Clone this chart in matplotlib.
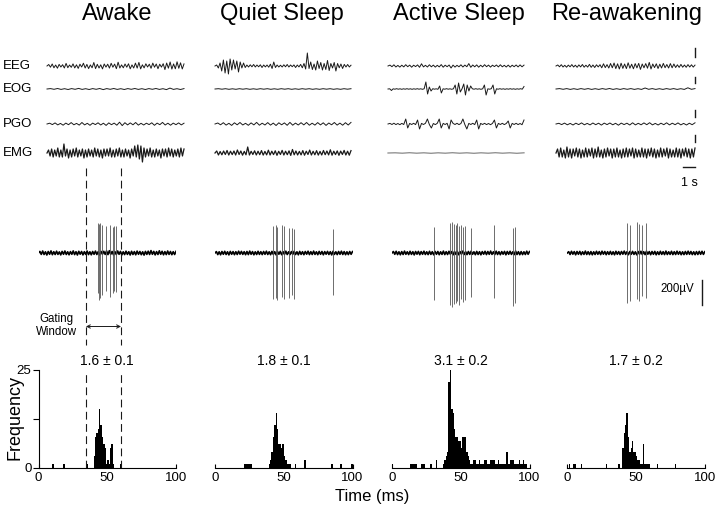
import numpy as np
import matplotlib
matplotlib.use("Agg")
import matplotlib.pyplot as plt

plt.rcParams['font.family'] = ['Liberation Sans', 'DejaVu Sans']

W, H = 720, 512

# ---------------- data ----------------
states = ["Awake", "Quiet Sleep", "Active Sleep", "Re-awakening"]
channels = ["EEG", "EOG", "PGO", "EMG"]
stats = ["1.6 ± 0.1", "1.8 ± 0.1", "3.1 ± 0.2", "1.7 ± 0.2"]
trace_dur = 11.5  # seconds shown in the top traces
gate_window = [34.5, 60]  # ms

# top polygraphic traces (arbitrary units, read approximately)
aw_eeg = [0,1.5,-1.2,2,-1.8,1,-2.2,1.6,-1,1.3,-2,2.6,-1.7,1,-1.3,2.1,-1.9,1.2,-2.4,1.8,-1,2.8,-2,1.6,-2.6,1.1,-1.8,3.5,-2.6,1.7,-2,1.2,-2.9,2,-1.1,1.8,-2.1,2.7,-1.2,1.9,-2.7,3.8,-2,1.1,-1.8,2,-1.2,2.2,-2.8,1.1,-2,2.9,-2.1,3.6,-2.9,1.2,-1.9,2.2,-1,1.8,-2.3,2.9,-1.2,2,-2.7,1.8,-1.1,2.3,-3.6,3,-2.2,4,-3.1,2.1,-2.8,4.2,-2.3,3.2,-3,2.1]
aw_eog = [0,0.4,-0.3,0.5,-0.4,0.3,-0.5,0.4,-0.3,0.6,-0.4,0.3,-0.5,0.4,-0.3,0.5,-0.6,0.4,-0.3,0.5,-0.4,0.3,-0.5,0.4,-0.3,0.5,-0.4,0.3,-0.5,0.4,-0.3,0.5,-0.4,0.3,-0.6,0.9,-0.4,0.3,-0.5,0.4]
aw_pgo = [0,0.8,-0.6,1.1,-0.9,0.6,-1.2,0.9,-0.7,1.4,-0.8,0.6,-1.1,1.5,-0.9,0.7,-1.3,0.9,-0.6,1.2,-1,0.8,-1.4,1.1,-0.7,0.9,-1.2,1.8,-1.6,1.3,-0.9,1.1,-0.8,1.5,-1.1,0.7,-1,0.8,-0.6,1.2,-1.3,0.9,-0.7,1.6,-1,0.8,-1.2,0.9,-0.7,1.1,-0.9,0.8]
aw_emg = [0,3,-3,4,-4,3,-3,5,-4,3,-4,9,-3,4,-5,3,-4,4,-3,5,-4,3,-3,4,-5,3,-4,4,-3,3,-4,5,-3,4,-4,3,-5,4,-3,4,-3,5,-4,3,-4,4,-3,5,-4,3,-4,4,-3,3,-5,4,-3,7,-4,8,-6,7,-9,5,-4,4,-3,5,-4,3,-4,4,-3,3,-5,4,-3,4,-4,5,-3,4,-4,3,-3,4,-4,5,-3,4]

qs_eeg = [0,1,-2,3,-5,6,-7,5,-8,7,-4,6,-3,5,-6,4,-2,3,-1.5,1,-1,1.2,-0.8,1.5,-1,1,-0.8,1.2,-1.5,1,-0.9,1,-1.2,1.8,-2.5,4,-1.5,1,-1,0.8,-1,1.2,-0.8,1.5,-1,1,-0.7,1.1,-1.5,1,-0.9,1.6,-1.8,2.5,-3,13,-2.5,4,-3.5,2,-4,5,-2.5,3.5,-4,2.5,-3.5,5.5,-4.5,2.5,-2,3.5,-5,2.5,-1.8,2,-2.5,1.6,-1,1.5,-1,0.8]
qs_eog = [0,0.3,-0.2,0.3,-0.3,0.2,-0.3,0.3,-0.2,0.3,-0.3,0.2,-0.3,0.3,-0.2,0.3,-0.3,0.2,-0.3,0.3,-0.2,0.3,-0.3,0.2,-0.3,0.3,-0.2,0.3,-0.3,0.2,-0.3,0.3,-0.2,0.3,-0.3,0.2,-0.3,0.3,-0.2,0.3]
qs_pgo = [0,1,-0.8,1.3,-1.1,0.7,-1.4,1.2,-0.8,1.5,-1,0.7,-1.3,1.1,-0.9,1.6,-1.2,0.8,-1,1.4,-1.1,0.9,-1.5,1.2,-0.8,1.1,-1.3,1.6,-1.2,0.9,-1,1.3,-0.9,1.5,-1.2,0.8,-1.1,1.4,-0.9,1.2,-1.4,1,-0.8,1.5,-1.1,0.9,-1.2,1.3,-1,1.6]
qs_emg = [0,2,-2,1.5,-1.8,2,-1.5,2.5,-2,1.8,-1.6,2,-2,3,-1.5,2,-2.2,1.6,-1.8,6,-2,1.7,-1.5,2.2,-2,1.8,-1.7,2.4,-2.1,1.6,-1.9,2.8,-2,1.8,-1.6,2.2,-2.3,1.7,-1.5,2.6,-2,1.8,-1.7,2.1,-2.4,3.5,-1.8,2,-2,1.6,-1.9,2.4,-2.2,1.8,-1.5,2.9,-2,1.7,-1.8,2.3,-2.1,1.6,-2,2.5,-1.7,2,-1.9,3.2,-2.2,1.8,-1.6,2.1,-2.3,1.9,-1.5,2.6,-2,1.8,-2.2,2.4]

as_eeg = [0,0.9,-0.7,1.2,-1,0.6,-1.1,0.8,-0.9,1.3,-0.7,0.9,-1.2,0.8,-0.6,1.1,-1.3,2.2,-0.9,0.7,-1,1.2,-0.8,0.9,-1.1,0.7,-0.9,1.4,-1.2,0.8,-0.7,1,-2,0.9,-1.1,0.7,-0.8,1.2,-1,0.9,-0.7,2.4,-1.3,1,-0.8,1.1,-1.2,0.8,-0.9,1.3,-0.7,0.9,-1.1,0.8,-0.6,1,-0.9,1.2,-0.8,0.7,-1,0.9,-1.1,0.8,-0.7,1,-0.9,1.1,-0.8,0.9]
as_eog = [0,0.2,-1.5,0.2,-0.2,0.3,-0.2,0.2,-0.3,0.2,-0.2,0.3,-0.2,0.2,-0.3,0.2,-0.2,0.3,-0.2,0.2,-0.3,0.2,7,-5,2,-2,0.3,-0.2,0.2,-0.3,3,-4,0.2,-0.2,0.3,-0.2,0.2,-0.3,0.2,4,-5,6,-3,0.2,5,-6,4,-2,3,0.2,-0.2,0.3,-0.2,0.2,-0.3,0.2,4,-6,0.2,-0.2,0.3,4,-5,0.2,-0.2,0.3,-0.2,0.2,-0.3,0.2,-0.2,0.3,-0.2,0.2,-0.3,0.2,-0.2,0.3,-0.2,2.5]
as_pgo = [0,0.6,-0.5,0.8,-0.6,0.5,-0.7,0.6,-0.5,5,-4,0.6,-0.5,0.7,-0.6,4,-5,0.6,-0.5,0.7,5,-0.6,-4,0.5,-0.6,0.7,5,-4,0.6,-0.5,0.7,-5,4,0.6,-0.5,0.7,-0.6,0.5,5,-0.6,-5,0.6,-0.5,0.7,-0.6,4,-5,0.6,-0.5,0.7,-0.6,0.5,-0.7,0.6,4,-4,0.6,-0.5,0.7,-0.6,0.5,3,-4,0.6,-0.5,0.7,-0.6,0.5,-0.7,4]
as_emg = [0,0.2,-0.2,0.3,-0.2,0.2,-0.3,0.2,-0.2,0.3,-0.2,0.2,-0.3,0.2,-0.2,0.3,-0.2,0.2,-0.3,0.2]

ra_eeg = [0,1,-0.8,1.3,-1,0.7,-1.2,0.9,-0.8,1.4,-1,0.8,-1.3,1.1,-0.9,1.5,-1.2,0.8,-1.1,1.6,-1.3,1,-1.5,1.2,-0.9,1.3,-1.8,2.2,-1.6,1.4,-2,2.5,-1.8,3,-2.6,2.2,-3,2.8,-2.4,2,-2.6,3.2,-2.2,1.8,-2.8,2.4,-1.9,2.6,-3.4,2,-1.8,2.4,-2.2,3.6,-3,2,-1.6,2.2,-2.5,1.8,-2,2.6,-1.7,1.5,-2,2.4,-1.8,2,-1.5,1.2,-1.4,1.6,-1.2,1,-1.3,1.4,-1,1.2,-1.1,0.9]
ra_eog = [0,0.4,-0.3,0.4,-0.4,0.3,-0.4,0.4,-0.3,0.4,-0.4,0.3,-0.4,0.4,-0.3,0.5,-0.4,0.3,-0.4,0.4,-0.3,0.4,-0.4,0.3,-0.4,1,-0.3,0.4,-0.4,0.3,-0.4,0.4,-0.3,0.4,-0.4,0.3,-0.4,1.2,-0.3,0.4]
ra_pgo = [0,0.7,-0.6,0.9,-0.8,0.6,-1,0.8,-0.6,1.1,-0.8,0.6,-0.9,1,-0.7,0.8,-1.1,0.9,-0.6,1,-0.8,0.7,-1.2,0.9,-0.6,0.8,-1,1.2,-0.9,0.7,-0.8,1.1,-0.7,1.3,-0.9,0.6,-1,0.8,-0.7,1.2,-0.9,0.8,-0.7,1.1,-0.9,0.6,-1,0.8,-0.7,1.2]
ra_emg = [0,4,-4,5,-4,3,-5,6,-4,4,-5,4,-3,5,-4,4,-5,3,-4,5,-4,4,-3,5,-5,4,-4,6,-4,3,-5,4,-4,5,-3,4,-5,4,-4,5,-4,3,-5,4,-4,5,-4,4,-3,5,-5,4,-4,3,-4,5,-4,4,-5,4,-3,5,-4,4,-5,3,-4,5,-4,4,-3,5,-5,4,-4,3,-4,5,-4,4,-5,4,-3,5,-4,4,-5,4,-4,5]

top_traces = [
    [aw_eeg, aw_eog, aw_pgo, aw_emg],
    [qs_eeg, qs_eog, qs_pgo, qs_emg],
    [as_eeg, as_eog, as_pgo, as_emg],
    [ra_eeg, ra_eog, ra_pgo, ra_emg],
]

# unit recordings: baseline noise + spike times (ms), tips and troughs
aw_noise = [0,1.6,-1.4,2,-1.5,1.2,-2,1.5,-1.3,2.1,-1.7,1.3,-1.5,1.8,-1.4,1.1,-1.9,1.6,-1.3,2,-1.5,1.2,-1.8,1.4,-1.3,2.1,-1.6,1.3,-2,1.7,-1.2,1.5,-1.9,1.3,-1.4,2,-1.6,1.2,-1.8,1.5,-1.3,1.9,-1.5,1.3,-2,1.6,-1.2,1.7,-1.4,2.1,-1.6,2.3,-1.3,1.5,-1.8,1.4,-1.5,2,-1.3,1.6,-1.9,1.2,-1.6,1.8,-1.4,1.3,-2,1.7,-1.5,1.4,-1.8,1.9,-1.3,1.5,-1.7,1.2,-2.1,1.6,-1.4,1.8,-1.5,2.4,-1.3,1.6,-1.9,1.4,-1.5,2.2,-1.3,1.7,-1.8,1.4,-1.6,2,-1.4,1.5,-1.7,1.3,-1.5,1.6]
qs_noise = [0,1.4,-1.6,1.2,-1.8,1.5,-1.3,1.7,-1.5,1.2,-1.9,1.6,-1.3,1.4,-1.7,1.3,-1.5,1.8,-1.2,1.6,-1.4,1.3,-1.7,1.5,-1.6,1.9,-1.3,1.4,-1.8,1.2,-1.5,1.7,-1.4,1.3,-1.6,1.5,-1.3,1.8,-1.5,1.2,-1.7,1.6,-1.4,1.3,-1.9,1.5,-1.2,1.6,-1.7,1.3,-1.4,1.8,-1.5,1.2,-1.6,1.4,-1.3,1.7,-1.5,1.2,-1.8,1.6,-1.4,1.3,-1.7,1.5,-1.2,1.8,-1.6,1.3,-1.5,1.9,-1.4,1.2,-1.7,1.6,-1.3,1.5,-1.8,1.4,-1.2,1.6,-1.5,1.3,-1.9,1.7,-1.4,1.2,-1.6,1.5,-1.3,1.8,-1.5,1.4,-1.7,1.2,-1.6,1.5,-1.3,1.4]
as_noise = [0,1.5,-1.3,1.7,-1.6,1.2,-1.8,1.4,-1.5,1.9,-1.3,1.2,-1.6,1.7,-1.4,1.3,-1.9,1.5,-1.2,1.6,-1.7,1.4,-1.3,1.8,-1.5,1.2,-1.6,1.7,-1.4,1.3,-1.8,1.6,-1.3,1.5,-1.7,1.2,-1.4,1.9,-1.6,1.3,-1.5,1.7,-1.2,1.4,-1.8,1.5,-1.3,1.6,-1.7,1.4,-1.2,1.9,-1.5,1.3,-1.6,1.5,-1.4,1.8,-1.3,1.2,-1.7,1.6,-1.5,1.3,-1.8,1.4,-1.2,1.7,-1.6,1.5,-1.3,1.9,-1.4,1.2,-1.6,1.8,-1.5,1.3,-1.7,1.4,-1.2,1.6,-1.8,1.5,-1.3,1.7,-1.4,1.2,-1.6,1.9,-1.5,1.3,-1.7,1.4,-1.6,1.2,-1.5,1.8,-1.3,1.4]
ra_noise = [0,1.3,-1.5,1.7,-1.2,1.4,-1.8,1.5,-1.3,1.6,-1.7,1.2,-1.4,1.9,-1.5,1.3,-1.6,1.4,-1.8,1.2,-1.5,1.7,-1.3,1.4,-1.6,1.8,-1.2,1.5,-1.7,1.3,-1.4,1.6,-1.5,1.2,-1.8,1.7,-1.3,1.4,-1.6,1.5,-1.2,1.9,-1.4,1.3,-1.7,1.5,-1.3,1.6,-1.4,1.2,-1.8,1.5,-1.3,1.7,-1.5,1.3,-1.6,1.8,-1.2,1.4,-1.7,1.5,-1.3,1.6,-1.8,1.2,-1.5,1.7,-1.4,1.3,-1.6,1.9,-1.5,1.2,-1.4,1.7,-1.6,1.3,-1.5,1.8,-1.3,1.4,-1.7,1.2,-1.6,1.5,-1.4,1.8,-1.3,1.5,-1.6,1.2,-1.7,1.4,-1.5,1.6,-1.3,1.7,-1.4,1.3]
noises = [aw_noise, qs_noise, as_noise, ra_noise]

spike_times = [
    [43, 44, 45, 46, 49.3, 52, 53.9, 55, 56.3],
    [42.3, 44, 45.2, 48.9, 50.5, 53.7, 55.7, 57.4, 86],
    [30.9, 42.1, 43.9, 45.1, 46.3, 47.6, 48.8, 50, 51.9, 52.9, 57.4, 74.5, 88, 89.2],
    [43.5, 45.5, 50.9, 52, 54.5, 57],
]
spike_tips = [
    [30, 29, 30, 28, 27, 28, 26, 27, 27],
    [27, 28, 26, 28, 27, 25, 25, 24, 24],
    [26, 30, 31, 29, 28, 30, 27, 28, 26, 27, 25, 28, 25, 26],
    [30, 28, 31, 29, 28, 30],
]
spike_troughs = [
    [-40, -47, -45, -42, -38, -44, -40, -38, -39],
    [-46, -45, -47, -44, -46, -45, -42, -46, -42],
    [-47, -52, -54, -51, -50, -48, -52, -46, -49, -47, -44, -45, -53, -50],
    [-50, -48, -46, -48, -43, -45],
]

# latency histograms (1 ms bins): bin left edge (ms) and count
aw_bins = [10, 18, 35, 40, 41, 42, 43, 44, 45, 46, 47, 48, 49, 50, 51, 52, 53, 54, 59]
aw_counts = [1, 1, 1, 3, 8, 9, 10, 15, 11, 8, 6, 5, 1, 2, 1, 5, 6, 1, 1]
qs_bins = [21, 22, 23, 24, 25, 26, 39, 40, 41, 42, 43, 44, 45, 46, 47, 48, 49, 50, 51, 52, 53, 54, 58, 65, 84, 85, 91, 99]
qs_counts = [1, 1, 1, 1, 1, 1, 1, 2, 4, 8, 11, 14, 10, 6, 6, 5, 6, 3, 2, 1, 1, 1, 1, 2, 1, 1, 1, 1]
as_bins = [0, 13, 14, 15, 16, 17, 21, 22, 23, 28, 32, 37, 38, 39, 40, 41, 42, 43, 44, 45, 46, 47, 48, 49, 50, 51, 52, 53, 54, 55, 56, 57, 58, 59, 60, 61, 62, 63, 64, 65, 66, 67, 68, 69, 70, 71, 72, 73, 74, 75, 76, 77, 78, 79, 80, 81, 82, 83, 84, 85, 86, 87, 88, 89, 90, 91, 92, 93, 94, 95, 96, 97]
as_counts = [1, 1, 1, 1, 1, 1, 1, 1, 1, 1, 2, 1, 2, 3, 4, 22, 25, 15, 14, 10, 8, 8, 7, 7, 5, 8, 8, 8, 4, 3, 2, 1, 1, 2, 2, 1, 1, 2, 1, 1, 1, 2, 2, 1, 1, 2, 2, 2, 2, 1, 1, 2, 1, 1, 1, 1, 1, 4, 1, 1, 2, 2, 2, 1, 1, 1, 2, 1, 1, 2, 1, 1]
ra_bins = [1, 4, 5, 10, 28, 37, 40, 41, 42, 43, 44, 45, 46, 47, 48, 49, 50, 51, 52, 53, 54, 55, 56, 57, 58, 59, 65, 78]
ra_counts = [1, 1, 1, 1, 1, 1, 5, 9, 11, 14, 8, 4, 5, 7, 4, 4, 3, 2, 2, 1, 1, 6, 1, 1, 1, 1, 1, 1]
hist_bins = [aw_bins, qs_bins, as_bins, ra_bins]
hist_counts = [aw_counts, qs_counts, as_counts, ra_counts]

# ---------------- layout (pixels) ----------------
def box(l, t, r, b):
    return [l / W, 1 - b / H, (r - l) / W, (b - t) / H]

top_left = [47, 215, 388, 556]
top_right = [184, 351, 524, 695]
title_x = [117, 282, 459, 627]
ch_px = [66, 89, 124, 153]
col_left = [38.5, 215, 392, 567.3]
col_w = 137.5
ink = '#1a1a1a'

fig = plt.figure(figsize=(W / 100, H / 100), dpi=100)

for name, y in zip(channels, ch_px):
    fig.text(3 / W, 1 - y / H, name, fontsize=9.5, va='center', ha='left')

for i, st in enumerate(states):
    fig.text(title_x[i] / W, 1 - 14 / H, st, fontsize=17, ha='center', va='center')

    # ---- polygraph traces
    ax = fig.add_axes(box(top_left[i], 40, top_right[i], 170))
    ax.set_xlim(0, trace_dur)
    ax.set_ylim(0, 130)
    ax.axis('off')
    for k, tr in enumerate(top_traces[i]):
        off = 170 - ch_px[k]
        x = np.linspace(0, trace_dur, len(tr))
        lw = 0.9 if k == 3 else 0.7
        col = '#888888' if (i == 2 and k == 3) else ink
        ax.plot(x, off + np.asarray(tr), color=col, lw=lw, clip_on=False)
    if i == 3:
        mk = [(9, 18), (6, 12), (7, 14), (11, 18)]
        for k, (lo, hi) in enumerate(mk):
            off = 170 - ch_px[k]
            ax.plot([trace_dur, trace_dur], [off + lo, off + hi], color=ink, lw=1.0, clip_on=False)
        ax.plot([trace_dur - 1, trace_dur], [3, 3], color=ink, lw=1.0, clip_on=False)
        ax.text(trace_dur - 0.5, -13, "1 s", fontsize=9, ha='center', va='center')

    # ---- unit recordings
    ax2 = fig.add_axes(box(col_left[i], 215, col_left[i] + col_w, 310))
    ax2.set_xlim(0, 100)
    ax2.set_ylim(-57, 38)
    ax2.axis('off')
    nz = noises[i]
    ax2.plot(np.linspace(0, 100, len(nz)), nz, color='black', lw=1.2)
    ax2.vlines(spike_times[i], spike_troughs[i], spike_tips[i], color='#555555', lw=0.6)
    if i == 0:
        for g in gate_window:
            ax2.axvline(g, ymin=(310 - 168) / 95, ymax=(310 - 345) / 95, color=ink,
                        lw=0.8, ls=(0, (7, 4)), clip_on=False)
        ax2.annotate('', xy=(gate_window[0], -73.5), xytext=(gate_window[1], -73.5),
                     arrowprops=dict(arrowstyle='<->', lw=0.7, color=ink,
                                     shrinkA=0, shrinkB=0, mutation_scale=6),
                     annotation_clip=False)
        ax2.text(12.7, -72.5, "Gating\nWindow", fontsize=8.3, ha='center', va='center',
                 linespacing=1.1)
    if i == 3:
        ax2.plot([97.7, 97.7], [-27, -52], color=ink, lw=1.0, clip_on=False)
        ax2.text(92.5, -36, "200µV", fontsize=8.3, ha='right', va='center')

    # ---- histograms
    ax3 = fig.add_axes(box(col_left[i], 370, col_left[i] + col_w, 468))
    ax3.bar(hist_bins[i], hist_counts[i], width=1, align='edge', color='black', linewidth=0)
    ax3.set_xlim(0, 100)
    ax3.set_ylim(0, 25)
    for s in ['top', 'right']:
        ax3.spines[s].set_visible(False)
    ax3.spines['bottom'].set_linewidth(0.8)
    ax3.set_xticks([0, 50, 100])
    ax3.tick_params(axis='x', direction='in', length=3, width=0.8, labelsize=9.5, pad=3)
    if i == 0:
        ax3.spines['left'].set_linewidth(0.8)
        ax3.set_yticks([0, 12.5, 25])
        ax3.set_yticklabels(['0', '', '25'])
        ax3.tick_params(axis='y', direction='out', length=4, width=0.8, labelsize=9.5, pad=1)
        for g in gate_window:
            ax3.axvline(g, ymin=0, ymax=(468 - 372) / 98, color=ink, lw=0.8,
                        ls=(0, (7, 4)), clip_on=False)
    else:
        ax3.spines['left'].set_visible(False)
        ax3.set_yticks([])
    ax3.text(50, 27.4, stats[i], fontsize=10, ha='center', va='center')

fig.text(15 / W, 1 - 418 / H, "Frequency", fontsize=13, rotation=90, ha='center', va='center')
fig.text(372 / W, 1 - 496 / H, "Time (ms)", fontsize=12, ha='center', va='center')

fig.savefig("out.png", dpi=100)
